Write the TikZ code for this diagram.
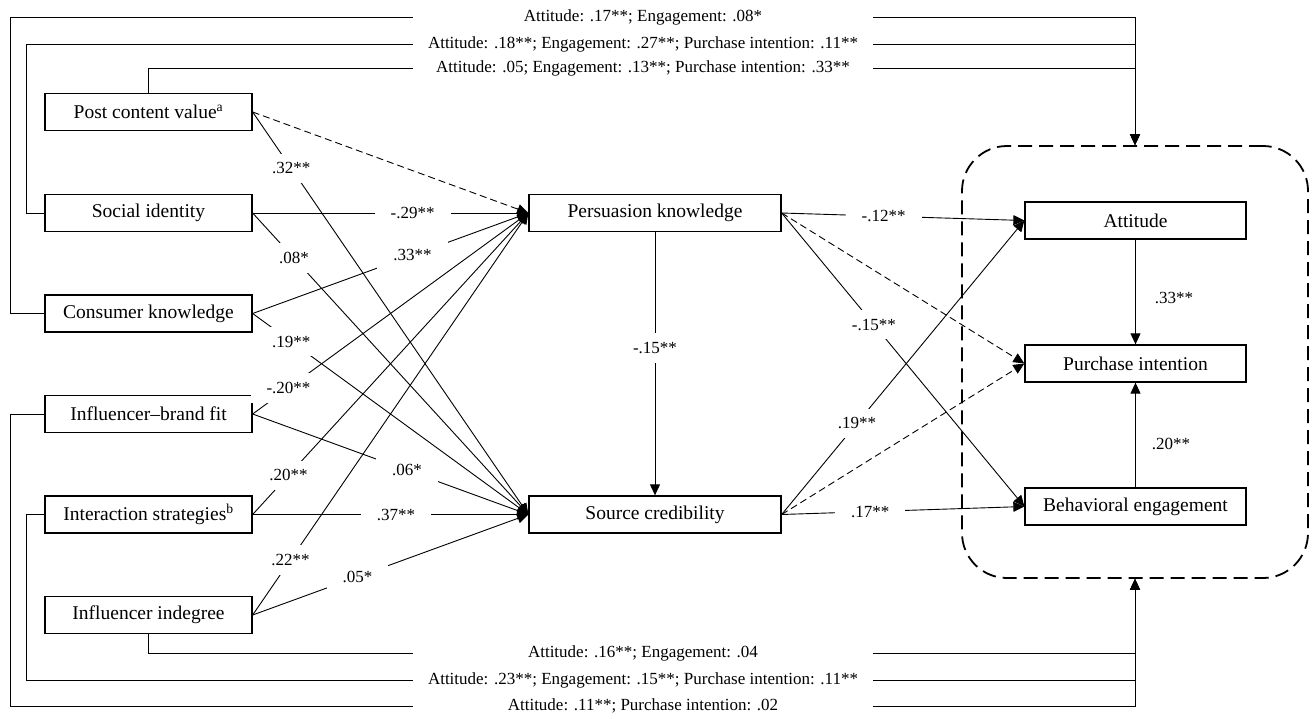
\documentclass[tikz,border=0pt]{standalone}
\usepackage{fontspec}
\setmainfont{Liberation Serif}
\usetikzlibrary{arrows.meta}
\begin{document}
\begin{tikzpicture}[x=1pt,y=-1pt,
  box/.style={draw, line width=1.3pt, minimum height=37pt, inner sep=0pt, font=\fontsize{19.5}{23}\selectfont},
  lbox/.style={box, minimum width=207pt},
  cbox/.style={box, minimum width=252pt},
  rbox/.style={box, minimum width=221pt},
  conn/.style={line width=0.9pt},
  arr/.style={conn, -{Triangle[length=11pt,width=10pt]}},
  dsh/.style={dash pattern=on 7pt off 4pt},
  lbl/.style={fill=white, inner xsep=16pt, inner ysep=9pt, font=\fontsize{17}{20}\selectfont},
  side/.style={inner sep=0pt, font=\fontsize{17}{20}\selectfont},
  toplbl/.style={fill=white, minimum width=460pt, inner sep=2pt, font=\fontsize{17}{20}\selectfont}
]
\useasboundingbox (0,0) rectangle (1312,718);

% boxes
\node[lbox] (pcv) at (148.5,112) {Post content value\textsuperscript{a}};
\node[lbox] (soc) at (148.5,213) {Social identity};
\node[lbox] (con) at (148.5,313.5) {Consumer knowledge};
\node[lbox] (fit) at (148.5,414) {Influencer--brand fit};
\node[lbox] (int) at (148.5,514.5) {Interaction strategies\textsuperscript{b}};
\node[lbox] (ind) at (148.5,615) {Influencer indegree};
\node[cbox] (pk) at (655,213) {Persuasion knowledge};
\node[cbox] (sc) at (655,514.5) {Source credibility};
\node[rbox] (att) at (1135.5,220.5) {Attitude};
\node[rbox] (pi) at (1135.5,363.5) {Purchase intention};
\node[rbox] (be) at (1135.5,506.5) {Behavioral engagement};
\node[draw, line width=1.8pt, dash pattern=on 14pt off 7pt, rounded corners=45pt,
      minimum width=346pt, minimum height=432pt] (out) at (1135,362) {};

% top direct effects
\draw[arr] (pcv.north) -- (148.5,68) -| (out.north);
\draw[arr] (soc.west) -| (26,44) -| (out.north);
\draw[arr] (con.west) -| (10,17) -| (out.north);
\node[toplbl] (t1) at (643,17) {Attitude: .17**; Engagement: .08*};
\node[toplbl] (t2) at (643,44) {Attitude: .18**; Engagement: .27**; Purchase intention: .11**};
\node[toplbl] (t3) at (643,68) {Attitude: .05; Engagement: .13**; Purchase intention: .33**};

% bottom direct effects
\draw[arr] (ind.south) -- (148.5,653) -| (out.south);
\draw[arr] (int.west) -| (26,680) -| (out.south);
\draw[arr] (fit.west) -| (10,706) -| (out.south);
\node[toplbl] (b1) at (643,653) {Attitude: .16**; Engagement: .04};
\node[toplbl] (b2) at (643,680) {Attitude: .23**; Engagement: .15**; Purchase intention: .11**};
\node[toplbl] (b3) at (643,706) {Attitude: .11**; Purchase intention: .02};

% predictors to mediators
\draw[arr,dsh] (pcv.east) -- (pk.west);
\draw[arr] (pcv.east) -- node[lbl,pos=0.14] (l1) {.32**} (sc.west);
\draw[arr] (soc.east) -- node[lbl,pos=0.58] (l2) {-.29**} (pk.west);
\draw[arr] (soc.east) -- node[lbl,pos=0.15] (l3) {.08*} (sc.west);
\draw[arr] (con.east) -- node[lbl,pos=0.58] (l4) {.33**} (pk.west);
\draw[arr] (con.east) -- node[lbl,pos=0.14] (l5) {.19**} (sc.west);
\draw[arr] (fit.east) -- node[lbl,pos=0.13] (l6) {-.20**} (pk.west);
\draw[arr] (fit.east) -- node[lbl,pos=0.56] (l7) {.06*} (sc.west);
\draw[arr] (int.east) -- node[lbl,pos=0.13] (l8) {.20**} (pk.west);
\draw[arr] (int.east) -- node[lbl,pos=0.52] (l9) {.37**} (sc.west);
\draw[arr] (ind.east) -- node[lbl,pos=0.137] (l10) {.22**} (pk.west);
\draw[arr] (ind.east) -- node[lbl,pos=0.38] (l11) {.05*} (sc.west);

% mediator to mediator
\draw[arr] (pk.south) -- node[lbl,pos=0.44] (l12) {-.15**} (sc.north);

% mediators to outcomes
\draw[arr] (pk.east) -- node[lbl,pos=0.42] (l13) {-.12**} (att.west);
\draw[arr,dsh] (pk.east) -- (pi.west);
\draw[arr] (pk.east) -- node[lbl,pos=0.38] (l14) {-.15**} (be.west);
\draw[arr] (sc.east) -- node[lbl,pos=0.31] (l15) {.19**} (att.west);
\draw[arr,dsh] (sc.east) -- (pi.west);
\draw[arr] (sc.east) -- node[lbl,pos=0.365] (l16) {.17**} (be.west);

% outcomes
\draw[arr] (att.south) -- node[side,pos=0.56,right=19pt] (l17) {.33**} (pi.north);
\draw[arr] (be.north) -- node[side,pos=0.41,right=16pt] (l18) {.20**} (pi.south);
\end{tikzpicture}
\end{document}
